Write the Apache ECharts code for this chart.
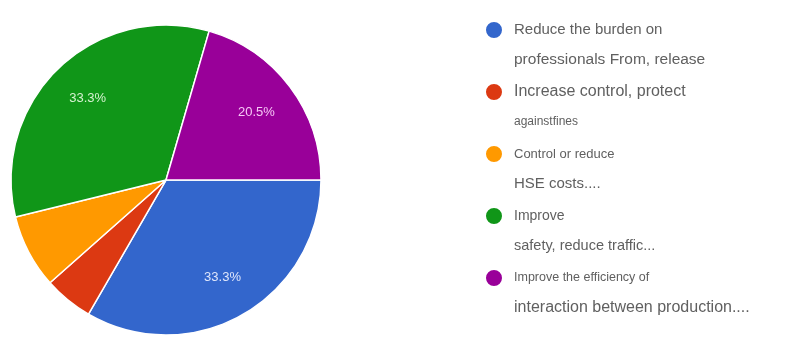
<!DOCTYPE html>
<html>
<head>
<meta charset="utf-8">
<script src="https://cdn.jsdelivr.net/npm/echarts@6/dist/echarts.min.js"></script>
<style>html,body{margin:0;padding:0;background:#fff;}#c{width:799px;height:341px;}</style>
</head>
<body>
<div id="c"></div>
<script>
const categories = [
  'Reduce the burden on professionals From, release',
  'Increase control, protect againstfines',
  'Control or reduce HSE costs....',
  'Improve safety, reduce traffic...',
  'Improve the efficiency of interaction between production....'
];
const counts = [13, 2, 3, 13, 8];
const legendLine1 = ['Reduce the burden on', 'Increase control, protect', 'Control or reduce', 'Improve', 'Improve the efficiency of'];
const legendLine2 = ['professionals From, release', 'againstfines', 'HSE costs....', 'safety, reduce traffic...', 'interaction between production....'];

const colors = ['#3366cc', '#dc3912', '#ff9900', '#109618', '#990099'];
const labelColors = ['#dfe6fb', '#ffffff', '#ffffff', '#d6f2d0', '#f6c6f6'];
const line1Sizes = [15, 16, 13, 14, 12.5];
const line2Sizes = [15.5, 12, 15, 14.5, 16];

const R = 155;
const total = counts.reduce((a, b) => a + b, 0);

const rich = {};
for (let i = 0; i < 5; i++) {
  rich['a' + i] = { fontSize: line1Sizes[i], color: '#606060', lineHeight: 30, fontFamily: 'Liberation Sans' };
  rich['b' + i] = { fontSize: line2Sizes[i], color: '#606060', lineHeight: 30, fontFamily: 'Liberation Sans' };
}

const chart = echarts.init(document.getElementById('c'), null, { renderer: 'canvas' });
chart.setOption({
  animation: false,
  color: colors,
  legend: {
    orient: 'vertical',
    left: 484,
    top: -15,
    padding: 0,
    itemGap: -28,
    itemWidth: 18,
    itemHeight: 18,
    icon: 'circle',
    data: categories,
    formatter: function (name) {
      const i = categories.indexOf(name);
      return '{a' + i + '|' + legendLine1[i] + '}\n{b' + i + '|' + legendLine2[i] + '}';
    },
    textStyle: {
      padding: [30, 0, 0, 6],
      lineHeight: 30,
      rich: rich
    }
  },
  series: [{
    type: 'pie',
    center: [166, 180],
    radius: [0, R],
    startAngle: 0,
    clockwise: true,
    avoidLabelOverlap: false,
    itemStyle: { borderColor: '#ffffff', borderWidth: 1.5 },
    label: {
      position: 'inside',
      fontSize: 13,
      fontFamily: 'Liberation Sans',
      formatter: function (p) {
        return p.percent >= 10 ? p.percent.toFixed(1) + '%' : '';
      }
    },
    labelLine: { show: false },
    labelLayout: function (params) {
      const i = params.dataIndex;
      let cum = 0;
      for (let k = 0; k < i; k++) cum += counts[k];
      const mid = (cum + counts[i] / 2) / total * Math.PI * 2;
      const d = R * 0.21;
      return { dx: Math.cos(mid) * d, dy: Math.sin(mid) * d };
    },
    data: categories.map((name, i) => ({
      name: name,
      value: counts[i],
      label: { color: labelColors[i] }
    }))
  }]
});
</script>
</body>
</html>
